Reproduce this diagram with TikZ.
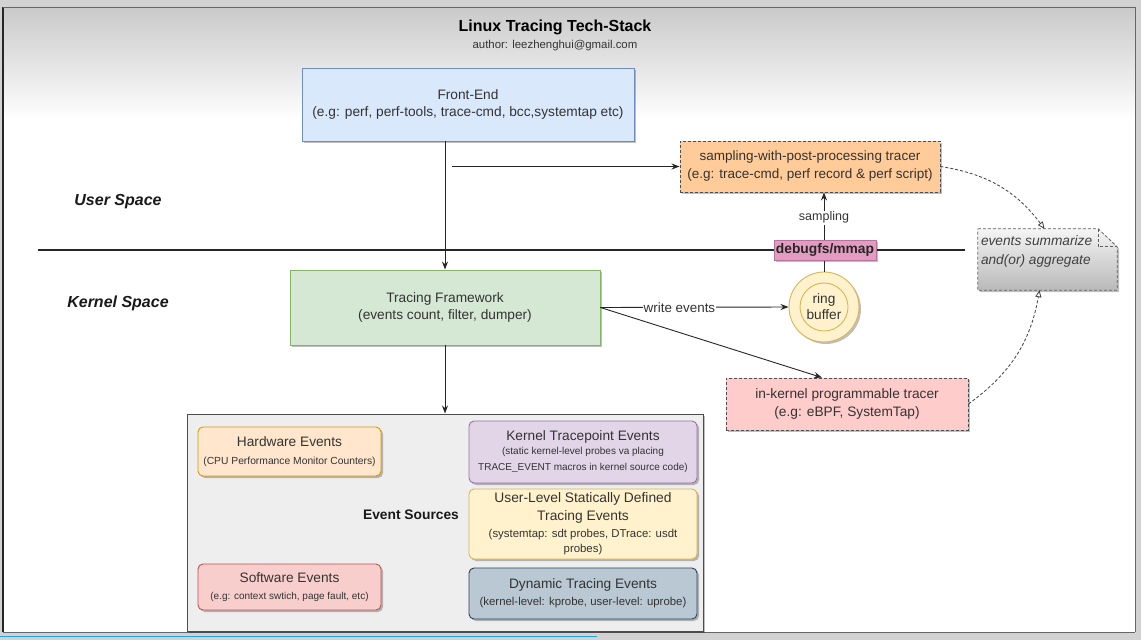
\documentclass[tikz,border=0pt]{standalone}
\usepackage{fontspec}
\setmainfont{Liberation Sans}
\usetikzlibrary{arrows.meta,shadows,calc}
\definecolor{txt}{HTML}{333333}
\definecolor{bluef}{HTML}{DAE8FC}\definecolor{blued}{HTML}{6C8EBF}
\definecolor{greenf}{HTML}{D5E8D4}\definecolor{greend}{HTML}{82B366}
\definecolor{orangef}{HTML}{FFCC99}
\definecolor{pinkf}{HTML}{FFCCCC}
\definecolor{darkd}{HTML}{4D4D4D}
\definecolor{dbgf}{HTML}{E39CC0}\definecolor{dbgd}{HTML}{B5739D}
\definecolor{yelf}{HTML}{FFF2CC}\definecolor{yeld}{HTML}{D6B656}
\definecolor{hwf}{HTML}{FFE6CC}\definecolor{hwd}{HTML}{D79B00}
\definecolor{kpf}{HTML}{E1D5E7}\definecolor{kpd}{HTML}{9673A6}
\definecolor{dynf}{HTML}{BAC8D3}\definecolor{dynd}{HTML}{23445D}
\definecolor{swf}{HTML}{F8CECC}\definecolor{swd}{HTML}{B85450}
\definecolor{contf}{HTML}{EEEEEE}
\definecolor{progress}{HTML}{1EA5EB}
\newcommand\fsz[2]{\fontsize{#1}{#2}\selectfont}
\tikzset{
  shd/.style={drop shadow={shadow xshift=2pt,shadow yshift=-2pt,opacity=0.25,fill=black}},
  plainbox/.style={draw, line width=0.9pt, align=center, inner sep=2pt, text=txt, shd},
  dashbox/.style={plainbox, draw=darkd, dashed, dash pattern=on 3pt off 2pt},
  evbox/.style={plainbox, rounded corners=5pt},
  arr/.style={-{Stealth[length=8pt,width=6pt]}, line width=0.9pt, draw=black!85},
  dasharr/.style={-{Triangle[open,length=7pt,width=6pt]}, line width=0.8pt, draw=black!75, dash pattern=on 3pt off 2pt},
}
\begin{document}
\begin{tikzpicture}[x=1pt,y=-1pt]
\useasboundingbox (0,0) rectangle (1141,640);
% background / frame
\fill[gray!35] (0,0) rectangle (1141,640);
\fill[white] (3,7) rectangle (1135,632);
\shade[top color=gray!42, bottom color=white] (3,7) rectangle (1135,120);
\draw[line width=1.6pt, black!85] (3,7) -- (3,632);
\draw[line width=1pt, black!60] (1135,7) -- (1135,632);
\draw[line width=1pt, black!60] (3,7) -- (1135,7);
\draw[line width=1pt, black!60] (3,632) -- (1135,632);
\draw[line width=1.6pt, progress] (0,636.5) -- (597,636.5);

% title
\node[font=\bfseries\fsz{16}{18}, text=black] (title) at (555,27) {Linux Tracing Tech-Stack};
\node[font=\fsz{11.4}{13}, text=txt] (author) at (555,46) {author: leezhenghui@gmail.com};

% space labels
\node[font=\bfseries\itshape\fsz{16}{18}, text=black!90] (us) at (118,202) {User Space};
\node[font=\bfseries\itshape\fsz{16}{18}, text=black!90] (ks) at (118,303) {Kernel Space};
\draw[line width=2pt, black!85] (38,250) -- (965,250);

% main boxes
\node[plainbox, fill=bluef, draw=blued, minimum width=332pt, minimum height=73pt, font=\fsz{13.7}{17}] (fe) at (468,104.5)
  {Front-End\\(e.g: perf, perf-tools, trace-cmd, bcc,systemtap etc)};
\node[dashbox, fill=orangef, minimum width=260pt, minimum height=51pt, font=\fsz{13.5}{17}] (samp) at (810,166.5)
  {sampling-with-post-processing tracer\\[1pt](e.g: trace-cmd, perf record \& perf script)};
\node[plainbox, fill=greenf, draw=greend, minimum width=310pt, minimum height=75pt, font=\fsz{13.7}{17}] (tf) at (445,307.5)
  {Tracing Framework\\(events count, filter, dumper)};
\node[dashbox, fill=pinkf, minimum width=242pt, minimum height=52pt, font=\fsz{13.7}{17}] (ik) at (847,404)
  {in-kernel programmable tracer\\[1pt](e.g: eBPF, SystemTap)};

% ring buffer
\node[circle, draw=yeld, fill=yelf, line width=0.9pt, minimum size=70pt, shd] (ring) at (824,307) {};
\node[circle, draw=yeld, line width=0.9pt, minimum size=48pt, align=center, text=txt, font=\fsz{13.7}{16}, inner sep=0pt] (ringin) at (ring.center) {ring\\buffer};

% note
\node[minimum width=139pt, minimum height=61pt, inner sep=0pt] (note) at (1047.5,259.5) {};
\path[top color=gray!8, bottom color=gray!55, draw=gray!75!black, line width=0.8pt, dash pattern=on 3pt off 2pt, shd]
  (note.north west) -- ($(note.north east)+(-19,0)$) -- ($(note.north east)+(0,18)$) -- (note.south east) -- (note.south west) -- cycle;
\draw[gray!75!black, line width=0.8pt, dash pattern=on 3pt off 2pt]
  ($(note.north east)+(-19,0)$) -- ($(note.north east)+(-19,18)$) -- ($(note.north east)+(0,18)$);
\node[anchor=north west, align=left, font=\itshape\fsz{13.7}{19}, text=black!75, inner sep=0pt] (notetext) at ($(note.north west)+(3,7)$)
  {events summarize\\and(or) aggregate};

% event sources container
\node[draw=black!70, fill=contf, line width=1pt, minimum width=516pt, minimum height=217pt, shd] (es) at (445,522.5) {};
\node[font=\bfseries\fsz{13.8}{16}, text=black!90] (eslabel) at (411,515) {Event Sources};
\node[evbox, fill=hwf, draw=hwd, minimum width=183pt, minimum height=49pt] (hw) at (289.5,451.5)
  {\fsz{13.7}{16}Hardware Events\\[6pt]\fsz{10.3}{12}(CPU Performance Monitor Counters)};
\node[evbox, fill=swf, draw=swd, minimum width=183pt, minimum height=46pt] (sw) at (289.5,587)
  {\fsz{13.7}{16}Software Events\\[5pt]\fsz{10}{12}(e.g: context swtich, page fault, etc)};
\node[evbox, fill=kpf, draw=kpd, minimum width=228pt, minimum height=62pt] (kp) at (583,452)
  {\fsz{13.7}{16}Kernel Tracepoint Events\\[2pt]\fsz{10}{16}(static kernel-level probes va placing\\[4pt]\fsz{10}{16}TRACE\_EVENT macros in kernel source code)};
\node[evbox, fill=yelf, draw=yeld, minimum width=228pt, minimum height=70pt] (usdt) at (583,524)
  {\fsz{13.8}{18}User-Level Statically Defined\\[4pt]\fsz{13.8}{17}Tracing Events\\[5pt]\fsz{11.4}{17}(systemtap: sdt probes, DTrace: usdt\\[3pt]\fsz{11.4}{17}probes)};
\node[evbox, fill=dynf, draw=dynd, minimum width=228pt, minimum height=51pt] (dyn) at (583,593.5)
  {\fsz{13.7}{16}Dynamic Tracing Events\\[5pt]\fsz{11.4}{13}(kernel-level: kprobe, user-level: uprobe)};

% connectors
\draw[arr] (fe.south -| tf.north) -- (tf.north);
\coordinate (fork) at (452,166.5);
\draw[arr] (fork) -- (samp.west);
\draw[arr] (tf.south) -- (es.north);
\draw[arr] (tf.east) -- node[pos=0.42, fill=white, inner sep=1pt, text=txt, font=\fsz{13.4}{15}] (we) {write events} (ring.west);
\draw[arr] (tf.east) -- ($(ik.north)+(-25,0)$);
\draw[arr] (ring.north) -- node[pos=0.68, fill=white, inner sep=1pt, text=txt, font=\fsz{12.5}{14}] (samplbl) {sampling} (ring.north |- samp.south);
\node[draw=dbgd, fill=dbgf, line width=0.8pt, font=\bfseries\fsz{13.8}{15}, text=black!85, inner sep=1.5pt, minimum width=102pt, minimum height=20pt, shd] (dbg) at (825,250) {debugfs/mmap};
\draw[dasharr] (samp.east) to[bend left=22] ($(note.north)+(-3,0)$);
\draw[dasharr] (ik.east) to[bend right=22] ($(note.south)+(-8,0)$);
\end{tikzpicture}
\end{document}
